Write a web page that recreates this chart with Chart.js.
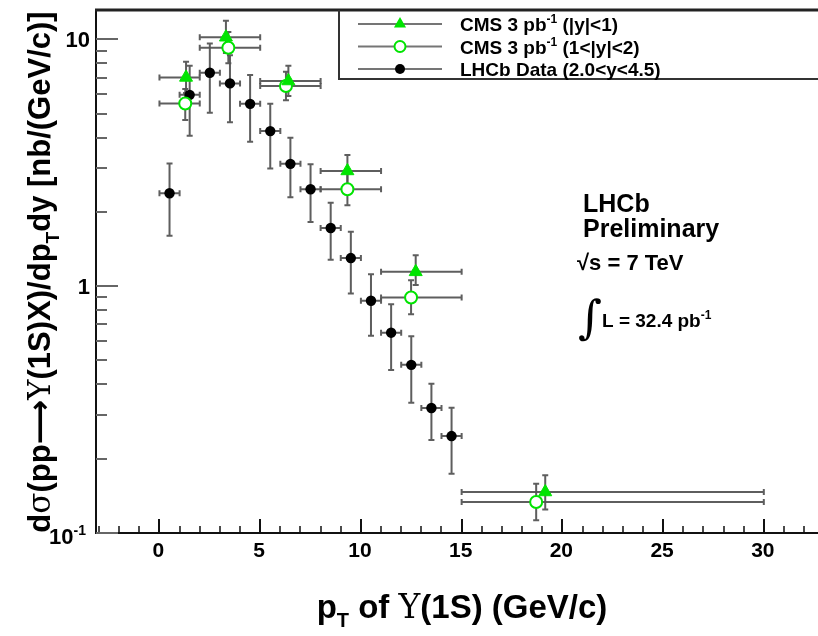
<!DOCTYPE html>
<html>
<head>
<meta charset="utf-8">
<script src="https://cdn.jsdelivr.net/npm/chart.js@4/dist/chart.umd.min.js"></script>
<style>
  html, body { margin: 0; padding: 0; background: #fff; overflow: hidden; }
  #wrap { width: 818px; height: 636px; position: relative; }
</style>
</head>
<body>
<div id="wrap"><canvas id="c" width="818" height="636"></canvas></div>
<script>
// ---- LHCb measurement, 1 GeV/c bins from 0 to 15 GeV/c (nb/(GeV/c)) ----
const lhcbPt     = [0.5, 1.5, 2.5, 3.5, 4.5, 5.5, 6.5, 7.5, 8.5, 9.5, 10.5, 11.5, 12.5, 13.5, 14.5];
const lhcbPtLo   = [0, 1, 2, 3, 4, 5, 6, 7, 8, 9, 10, 11, 12, 13, 14];
const lhcbPtHi   = [1, 2, 3, 4, 5, 6, 7, 8, 9, 10, 11, 12, 13, 14, 15];
const lhcbXsec   = [2.38, 5.96, 7.32, 6.63, 5.48, 4.25, 3.13, 2.47, 1.72, 1.30, 0.873, 0.648, 0.480, 0.321, 0.247];
const lhcbHigh   = [3.14, 7.82, 9.63, 8.63, 7.17, 5.48, 3.99, 3.12, 2.18, 1.66, 1.118, 0.844, 0.627, 0.402, 0.322];
const lhcbLow    = [1.60, 4.07, 5.04, 4.61, 3.85, 3.00, 2.29, 1.82, 1.28, 0.934, 0.629, 0.457, 0.337, 0.238, 0.174];

// ---- CMS 3 pb^-1, wide pT bins ----
const cmsPtLo        = [0, 2, 5, 8, 11, 15];
const cmsPtHi        = [2, 5, 8, 11, 15, 30];
// |y| < 1
const cmsCentralPt   = [1.32, 3.30, 6.40, 9.33, 12.72, 19.15];
const cmsCentral     = [7.01, 10.2, 6.78, 2.93, 1.143, 0.1466];
const cmsCentralHigh = [8.11, 11.9, 7.82, 3.40, 1.335, 0.1714];
const cmsCentralLow  = [6.06, 8.80, 5.90, 2.53, 1.010, 0.1245];
// 1 < |y| < 2
const cmsForwardPt   = [1.28, 3.42, 6.28, 9.33, 12.49, 18.70];
const cmsForward     = [5.50, 9.25, 6.47, 2.47, 0.900, 0.1336];
const cmsForwardHigh = [6.30, 10.7, 7.40, 2.87, 1.057, 0.1585];
const cmsForwardLow  = [4.71, 8.00, 5.67, 2.13, 0.770, 0.1125];

// ---- axis ticks ----
const xMajorTicks = [0, 5, 10, 15, 20, 25, 30];
const xMinorTicks = [-3, -2, -1, 1, 2, 3, 4, 6, 7, 8, 9, 11, 12, 13, 14, 16, 17, 18, 19, 21, 22, 23, 24, 26, 27, 28, 29, 31, 32];
const yMajorTicks = [0.1, 1, 10];
const yMinorTicks = [0.2, 0.3, 0.4, 0.5, 0.6, 0.7, 0.8, 0.9, 2, 3, 4, 5, 6, 7, 8, 9];

const legendLabels = [
  [{t: 'CMS 3 pb'}, {t: '-1', sup: true}, {t: ' (|y|<1)'}],
  [{t: 'CMS 3 pb'}, {t: '-1', sup: true}, {t: ' (1<|y|<2)'}],
  [{t: 'LHCb Data (2.0<y<4.5)'}]
];

const GREEN = '#00e400';
const BAR = 'rgba(85,85,85,0.95)';
const SANS = '"Liberation Sans", Arial, Helvetica, sans-serif';
const SERIF = '"DejaVu Serif", "Liberation Serif", serif';
const SYMB = '"DejaVu Sans", sans-serif';

function pts(xs, ys) { return xs.map((x, i) => ({x: x, y: ys[i]})); }

// Rich text: segments with optional sub/superscript and font family
function segFont(s, size) {
  const sz = (s.sub || s.sup) ? Math.round(size * 0.62) : size;
  if (s.serif) return 'normal ' + sz + 'px ' + SERIF;
  if (s.symb) return 'bold ' + sz + 'px ' + SYMB;
  return 'bold ' + sz + 'px ' + SANS;
}
function richWidth(ctx, segs, size) {
  let w = 0;
  for (const s of segs) {
    ctx.font = segFont(s, size);
    w += ctx.measureText(s.t).width;
  }
  return w;
}
function drawRich(ctx, segs, x, y, size, align) {
  const w = richWidth(ctx, segs, size);
  let cx = align === 'center' ? x - w / 2 : (align === 'right' ? x - w : x);
  ctx.textBaseline = 'alphabetic';
  ctx.textAlign = 'left';
  for (const s of segs) {
    ctx.font = segFont(s, size);
    let dy = 0;
    if (s.sub) dy = size * 0.28;
    if (s.sup) dy = -size * 0.42;
    ctx.fillText(s.t, cx, y + dy);
    cx += ctx.measureText(s.t).width;
  }
}

function drawBars(ctx, xs, ys, xlo, xhi, ylo, yhi, sx, sy, cap) {
  ctx.strokeStyle = BAR;
  ctx.lineWidth = 2;
  for (let i = 0; i < xs.length; i++) {
    const px = sx.getPixelForValue(xs[i]);
    const py = sy.getPixelForValue(ys[i]);
    const l = sx.getPixelForValue(xlo[i]);
    const r = sx.getPixelForValue(xhi[i]);
    const t = sy.getPixelForValue(yhi[i]);
    const b = sy.getPixelForValue(ylo[i]);
    ctx.beginPath();
    ctx.moveTo(l, py); ctx.lineTo(r, py);
    ctx.moveTo(px, t); ctx.lineTo(px, b);
    // end caps
    ctx.moveTo(l, py - cap); ctx.lineTo(l, py + cap);
    ctx.moveTo(r, py - cap); ctx.lineTo(r, py + cap);
    ctx.moveTo(px - cap, t); ctx.lineTo(px + cap, t);
    ctx.moveTo(px - cap, b); ctx.lineTo(px + cap, b);
    ctx.stroke();
  }
}

const rootStyle = {
  id: 'rootStyle',
  beforeDatasetsDraw(chart) {
    const ctx = chart.ctx, sx = chart.scales.x, sy = chart.scales.y;
    ctx.save();
    drawBars(ctx, lhcbPt, lhcbXsec, lhcbPtLo, lhcbPtHi, lhcbLow, lhcbHigh, sx, sy, 3);
    drawBars(ctx, cmsForwardPt, cmsForward, cmsPtLo, cmsPtHi, cmsForwardLow, cmsForwardHigh, sx, sy, 3);
    drawBars(ctx, cmsCentralPt, cmsCentral, cmsPtLo, cmsPtHi, cmsCentralLow, cmsCentralHigh, sx, sy, 3);
    ctx.restore();
  },
  afterDraw(chart) {
    const ctx = chart.ctx, sx = chart.scales.x, sy = chart.scales.y;
    const a = chart.chartArea;
    ctx.save();
    ctx.fillStyle = '#000';
    ctx.strokeStyle = '#111';

    // frame
    ctx.lineWidth = 2;
    ctx.beginPath();
    ctx.moveTo(a.left, a.top); ctx.lineTo(a.left, a.bottom); ctx.lineTo(a.right + 2, a.bottom);
    ctx.stroke();
    ctx.lineWidth = 3;
    ctx.strokeStyle = '#222';
    ctx.beginPath();
    ctx.moveTo(a.left - 1, a.top); ctx.lineTo(a.right + 2, a.top);
    ctx.stroke();

    // x ticks (pointing into the frame)
    ctx.strokeStyle = '#111';
    ctx.lineWidth = 2;
    ctx.beginPath();
    for (const v of xMajorTicks) {
      const px = Math.round(sx.getPixelForValue(v));
      ctx.moveTo(px, a.bottom); ctx.lineTo(px, a.bottom - 14);
    }
    ctx.stroke();
    ctx.lineWidth = 1.5;
    ctx.beginPath();
    for (const v of xMinorTicks) {
      const px = Math.round(sx.getPixelForValue(v));
      ctx.moveTo(px, a.bottom); ctx.lineTo(px, a.bottom - 7);
    }
    ctx.stroke();

    // y ticks
    ctx.lineWidth = 2;
    ctx.strokeStyle = '#666';
    ctx.beginPath();
    for (const v of yMajorTicks) {
      const py = Math.round(sy.getPixelForValue(v));
      ctx.moveTo(a.left, py); ctx.lineTo(a.left + 22, py);
    }
    ctx.stroke();
    ctx.beginPath();
    for (const v of yMinorTicks) {
      const py = Math.round(sy.getPixelForValue(v));
      ctx.moveTo(a.left, py); ctx.lineTo(a.left + 11, py);
    }
    ctx.stroke();

    // x tick labels
    ctx.font = 'bold 21px ' + SANS;
    ctx.textAlign = 'center';
    ctx.textBaseline = 'middle';
    for (const v of xMajorTicks) {
      ctx.fillText(String(v), sx.getPixelForValue(v) - 1, a.bottom + 18);
    }

    // y tick labels
    const yl = [
      [{t: '10'}, {t: '-1', sup: true}],
      [{t: '1'}],
      [{t: '10'}]
    ];
    yMajorTicks.forEach((v, i) => {
      const py = sy.getPixelForValue(v);
      drawRich(ctx, yl[i], a.left - (i === 0 ? 10 : 6), py + 8 + (i === 0 ? 3 : 0), 22, 'right');
    });

    // axis titles
    drawRich(ctx, [
      {t: 'p'}, {t: 'T', sub: true}, {t: ' of '}, {t: 'Υ', serif: true}, {t: '(1S) (GeV/c)'}
    ], 462, 618, 33, 'center');

    ctx.save();
    ctx.translate(50, 272);
    ctx.rotate(-Math.PI / 2);
    drawRich(ctx, [
      {t: 'd'}, {t: 'σ', serif: true}, {t: '(pp'}, {t: '⟶', symb: true}, {t: 'Υ', serif: true},
      {t: '(1S)X)/dp'}, {t: 'T', sub: true}, {t: 'dy [nb/(GeV/c)]'}
    ], 0, 0, 31, 'center');
    ctx.restore();

    // legend box
    ctx.lineWidth = 2;
    ctx.strokeStyle = '#333';
    ctx.beginPath();
    ctx.moveTo(339, a.top); ctx.lineTo(339, 79); ctx.lineTo(a.right + 2, 79);
    ctx.stroke();
    const rows = [24, 46.5, 69];
    rows.forEach((ry, i) => {
      ctx.strokeStyle = 'rgba(110,110,110,0.95)';
      ctx.lineWidth = 2;
      ctx.beginPath();
      ctx.moveTo(358, ry); ctx.lineTo(442, ry);
      ctx.stroke();
      ctx.beginPath();
      if (i === 0) {
        const r = 7;
        ctx.fillStyle = GREEN;
        ctx.moveTo(400, ry - r);
        ctx.lineTo(400 + r * 0.866, ry + r * 0.5);
        ctx.lineTo(400 - r * 0.866, ry + r * 0.5);
        ctx.closePath();
        ctx.fill();
      } else if (i === 1) {
        ctx.fillStyle = '#fff';
        ctx.strokeStyle = GREEN;
        ctx.arc(400, ry, 5.5, 0, Math.PI * 2);
        ctx.fill();
        ctx.stroke();
      } else {
        ctx.fillStyle = '#000';
        ctx.arc(400, ry, 5, 0, Math.PI * 2);
        ctx.fill();
      }
      ctx.fillStyle = '#000';
      drawRich(ctx, legendLabels[i], 460, ry + 7, 19, 'left');
    });

    // experiment / conditions annotation
    ctx.fillStyle = '#000';
    drawRich(ctx, [{t: 'LHCb'}], 583, 212, 25, 'left');
    drawRich(ctx, [{t: 'Preliminary'}], 583, 237, 25, 'left');
    drawRich(ctx, [{t: '√'}, {t: 's = 7 TeV'}], 577, 270, 22, 'left');
    ctx.font = 'normal 46px ' + SERIF;
    ctx.textAlign = 'left';
    ctx.textBaseline = 'alphabetic';
    ctx.fillText('∫', 578, 333);
    drawRich(ctx, [{t: 'L = 32.4 pb'}, {t: '-1', sup: true}], 602, 327, 19, 'left');

    ctx.restore();
  }
};

new Chart(document.getElementById('c'), {
  type: 'scatter',
  data: {
    datasets: [
      {
        label: 'CMS 3 pb-1 (|y|<1)',
        data: pts(cmsCentralPt, cmsCentral),
        pointStyle: 'triangle',
        pointRadius: 7.5,
        backgroundColor: GREEN,
        borderColor: GREEN,
        borderWidth: 1,
        order: 0
      },
      {
        label: 'CMS 3 pb-1 (1<|y|<2)',
        data: pts(cmsForwardPt, cmsForward),
        pointStyle: 'circle',
        pointRadius: 6,
        backgroundColor: '#fff',
        borderColor: GREEN,
        borderWidth: 2,
        order: 1
      },
      {
        label: 'LHCb Data (2.0<y<4.5)',
        data: pts(lhcbPt, lhcbXsec),
        pointStyle: 'circle',
        pointRadius: 5.2,
        backgroundColor: '#000',
        borderColor: '#000',
        borderWidth: 0,
        order: 2
      }
    ]
  },
  options: {
    responsive: false,
    animation: false,
    devicePixelRatio: 1,
    layout: { autoPadding: false, padding: { left: 96, top: 10, right: 0, bottom: 103 } },
    plugins: { legend: { display: false }, tooltip: { enabled: false } },
    scales: {
      x: { type: 'linear', min: -3.15, max: 32.69, display: false },
      y: { type: 'logarithmic', min: 0.1, max: 13.15, display: false }
    },
    elements: { point: { hoverRadius: 0 } }
  },
  plugins: [rootStyle]
});
</script>
</body>
</html>
